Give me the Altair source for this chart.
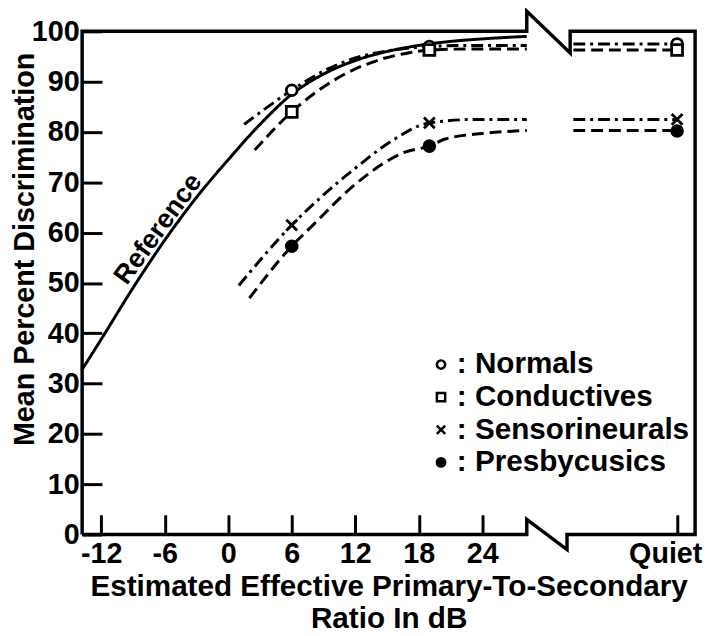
import altair as alt
import pandas as pd

FONT = "Liberation Sans"

# x domain (dB) and the position used for the "Quiet" condition
X_MIN, X_MAX = -13.8, 44.1
QUIET = 42.4

# Reference curve (solid)
ref_x = [-13.8, -12, -9, -6, -3, 0, 3, 6, 9, 12, 15, 18, 21, 24, 28.2]
ref_y = [32.8, 38.8, 49.0, 58.5, 67.0, 74.5, 81.5, 87.5, 91.5, 94.2, 96.0, 97.2, 98.0, 98.5, 99.0]

# Group curves (left of the break)
norm_x = [1.5, 6, 9, 12, 15, 19, 23, 28.2]
norm_y = [81.5, 88.3, 92.1, 94.7, 96.1, 97.0, 97.2, 97.2]
cond_x = [2.5, 6, 10, 14.5, 17, 19, 23, 28.2]
cond_y = [76.4, 84.0, 90.3, 94.5, 95.7, 96.3, 96.5, 96.5]
sens_x = [1.0, 6, 9, 12, 15.5, 19, 23.5, 28.2]
sens_y = [49.5, 61.5, 67.5, 72.8, 78.3, 81.8, 82.5, 82.5]
pres_x = [2.0, 6, 8, 12, 16.7, 19, 20.5, 24, 28.2]
pres_y = [47.0, 57.3, 61.5, 69.6, 76.0, 77.2, 78.6, 79.7, 80.3]

# Quiet segments (right of the break)
quiet_seg_x = [32.6, QUIET]
norm_quiet = 97.5
cond_quiet = 96.3
sens_quiet = 82.5
pres_quiet = 80.3

# Measured points
groups = ["Normals", "Conductives", "Sensorineurals", "Presbycusics"]
point_x = [6, 19, QUIET]
norm_pts = [88.3, 97.0, 97.5]
cond_pts = [84.0, 96.3, 96.3]
sens_pts = [61.5, 81.8, 82.5]
pres_pts = [57.3, 77.2, 80.2]

# Frame with the axis break
frame_x = [X_MIN, X_MIN, 28.2, 28.2, 32.3, 32.3, X_MAX, X_MAX, 32.0, 32.0, 28.2, 28.2, X_MIN]
frame_y = [0, 100, 100, 104.0, 95.7, 100, 100, 0, 0, -3, 3, 0, 0]

x_ticks = [-12, -6, 0, 6, 12, 18, 24, QUIET]
y_ticks = [0, 10, 20, 30, 40, 50, 60, 70, 80, 90, 100]

ref_label = "Reference"
ref_label_x, ref_label_y = -6.6, 60.7

# ---- build tables ----
rows = []
def add(name, seg, style, xs, ys):
    for i, (a, b) in enumerate(zip(xs, ys)):
        rows.append({"series": name, "seg": name + seg, "style": style, "x": a, "y": b, "i": i})

add("Reference", "main", "solid", ref_x, ref_y)
add("Normals", "main", "dashdot", norm_x, norm_y)
add("Conductives", "main", "dashed", cond_x, cond_y)
add("Sensorineurals", "main", "dashdot", sens_x, sens_y)
add("Presbycusics", "main", "dashed", pres_x, pres_y)
add("Normals", "quiet", "dashdot", quiet_seg_x, [norm_quiet] * 2)
add("Conductives", "quiet", "dashed", quiet_seg_x, [cond_quiet] * 2)
add("Sensorineurals", "quiet", "dashdot", quiet_seg_x, [sens_quiet] * 2)
add("Presbycusics", "quiet", "dashed", quiet_seg_x, [pres_quiet] * 2)
lines_df = pd.DataFrame(rows)

pts = []
for g, vals in zip(groups, [norm_pts, cond_pts, sens_pts, pres_pts]):
    for a, b in zip(point_x, vals):
        pts.append({"group": g, "x": a, "y": b})
pts_df = pd.DataFrame(pts)

frame_df = pd.DataFrame({"x": frame_x, "y": frame_y, "o": list(range(len(frame_x)))})
label_df = pd.DataFrame({"x": [ref_label_x], "y": [ref_label_y], "t": [ref_label]})

x_scale = alt.Scale(domain=[X_MIN, X_MAX], nice=False, zero=False)
y_scale = alt.Scale(domain=[0, 100], nice=False, zero=False)

x_axis = alt.Axis(
    values=x_ticks,
    labelExpr="datum.value > 40 ? 'Quiet' : '' + datum.value",
    title=["Estimated Effective Primary-To-Secondary", "Ratio In dB"],
    offset=-20, tickSize=20, tickWidth=3, tickColor="black",
    domain=False, grid=False, labelPadding=5,
    labelFont=FONT, labelFontSize=29, labelFontWeight="bold", labelColor="black",
    labelFlush=False, labelOverlap=False,
    labelOffset={"condition": {"test": "datum.value > 40", "value": -12}, "value": 0},
    titleFont=FONT, titleFontSize=30, titleFontWeight="bold", titleColor="black",
    titlePadding=4, titleLineHeight=32,
)
y_axis = alt.Axis(
    values=y_ticks, format="d",
    title="Mean Percent Discrimination",
    offset=-20, tickSize=20, tickWidth=3, tickColor="black",
    domain=False, grid=False, labelPadding=3,
    labelFont=FONT, labelFontSize=29, labelFontWeight="bold", labelColor="black",
    labelFlush=False, labelOverlap=False,
    titleFont=FONT, titleFontSize=29, titleFontWeight="bold", titleColor="black",
    titleX=-78, titleY=220, titleAngle=270, titleAlign="center", titleBaseline="middle",
)

frame = alt.Chart(frame_df).mark_line(color="black", strokeWidth=3.5, strokeJoin="miter").encode(
    x=alt.X("x:Q", scale=x_scale, axis=x_axis),
    y=alt.Y("y:Q", scale=y_scale, axis=y_axis),
    order="o:Q",
)

curves = alt.Chart(lines_df).mark_line(color="black", strokeWidth=3, interpolate="monotone").encode(
    x=alt.X("x:Q", scale=x_scale),
    y=alt.Y("y:Q", scale=y_scale),
    detail="seg:N",
    order="i:Q",
    strokeDash=alt.StrokeDash(
        "style:N",
        scale=alt.Scale(domain=["solid", "dashdot", "dashed"],
                        range=[[1, 0], [12, 5, 3, 5], [12, 6]]),
        legend=None,
    ),
)

legend = alt.Legend(
    orient="none", legendX=348, legendY=322, title=None, padding=0,
    labelExpr="': ' + datum.label", labelLimit=0,
    labelFont=FONT, labelFontSize=30, labelFontWeight="bold", labelColor="black",
    symbolSize=70, symbolStrokeWidth=2.5,
    rowPadding=3, labelOffset=1,
)

points = alt.Chart(pts_df).mark_point(strokeWidth=2.8, opacity=1, size=120, filled=False).encode(
    x=alt.X("x:Q", scale=x_scale),
    y=alt.Y("y:Q", scale=y_scale),
    shape=alt.Shape("group:N", scale=alt.Scale(domain=groups,
                    range=["circle", "square", "M-1,-1L1,1M-1,1L1,-1", "circle"]),
                    legend=legend),
    fill=alt.Fill("group:N", scale=alt.Scale(domain=groups,
                  range=["white", "white", "white", "black"]), legend=legend),
    stroke=alt.Stroke("group:N", scale=alt.Scale(domain=groups,
                      range=["black", "black", "black", "black"]), legend=legend),
)

ref_text = alt.Chart(label_df).mark_text(
    font=FONT, fontSize=27, fontWeight="bold", color="black", angle=306,
    align="center", baseline="middle",
).encode(
    x=alt.X("x:Q", scale=x_scale),
    y=alt.Y("y:Q", scale=y_scale),
    text="t:N",
)

chart = alt.layer(frame, curves, points, ref_text).properties(
    width=620, height=509,
    padding={"left": 75, "top": 20, "right": 8, "bottom": 99},
    autosize=alt.AutoSizeParams(type="none"),
    background="white",
).configure_view(strokeWidth=0)

chart.save("out.html", embed_options={"renderer": "svg", "actions": False})
